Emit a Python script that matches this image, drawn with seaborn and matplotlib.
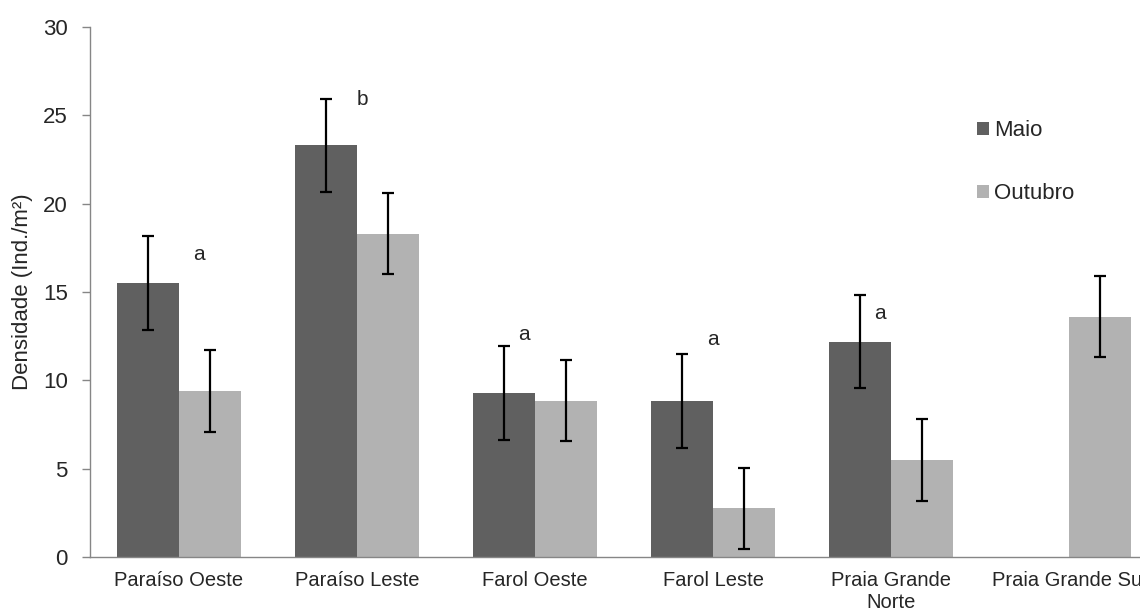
import pandas as pd
import seaborn as sns
import matplotlib.pyplot as plt
import numpy as np

# values
sites = ['Paraíso Oeste', 'Paraíso Leste', 'Farol Oeste', 'Farol Leste',
         'Praia Grande\nNorte', 'Praia Grande Sul']
maio = [15.5, 23.3, 9.3, 8.85, 12.2, 0.0]
maio_err = [2.65, 2.65, 2.65, 2.65, 2.65, np.nan]
outubro = [9.4, 18.3, 8.85, 2.75, 5.5, 13.6]
outubro_err = [2.3, 2.3, 2.3, 2.3, 2.3, 2.3]

letters = ['a', 'b', 'a', 'a', 'a']
letter_y = [17.1, 25.9, 12.6, 12.3, 13.8]
letter_dx = [0.11, 0.03, -0.06, 0.0, -0.06]


def main():
    sns.set_style('white')
    plt.rcParams['font.family'] = ['Liberation Sans', 'DejaVu Sans']

    df = pd.DataFrame({
        'Local': sites * 2,
        'Mês': ['Maio'] * len(sites) + ['Outubro'] * len(sites),
        'Densidade': maio + outubro,
    })

    fig = plt.figure(figsize=(11.4, 6.14), dpi=100)
    # the axes runs past the right edge, like the cropped original
    ax = fig.add_axes([0.0789, 0.0928, 0.937, 0.863])

    sns.barplot(data=df, x='Local', y='Densidade', hue='Mês',
                palette=['#606060', '#b2b2b2'], width=0.7, errorbar=None,
                linewidth=0, ax=ax)

    # error bars on the bar centres
    for cont, err in zip(ax.containers, [maio_err, outubro_err]):
        xs = [p.get_x() + p.get_width() / 2 for p in cont.patches]
        ys = [p.get_height() for p in cont.patches]
        ax.errorbar(xs, ys, yerr=err, fmt='none', ecolor='black',
                    elinewidth=1.6, capsize=4.5, capthick=1.6)

    for i, (t, y, dx) in enumerate(zip(letters, letter_y, letter_dx)):
        ax.text(i + dx, y, t, ha='center', va='center', fontsize=15)

    ax.set_xlim(-0.5, 5.5)
    ax.set_ylim(0, 30)
    ax.set_yticks(range(0, 31, 5))
    ax.set_xlabel('')
    ax.set_ylabel('Densidade (Ind./m²)', fontsize=16, labelpad=7)

    # category separators as tick marks
    ax.set_xticks(np.arange(-0.5, 5.6, 1), minor=True)
    ax.tick_params(axis='x', which='major', length=0, labelsize=14.5, pad=10)
    ax.tick_params(axis='x', which='minor', length=6, color='#868686', width=1)
    ax.tick_params(axis='y', length=6, color='#868686', width=1,
                   labelsize=16, left=True, pad=10)

    for s in ['top', 'right']:
        ax.spines[s].set_visible(False)
    for s in ['left', 'bottom']:
        ax.spines[s].set_color('#868686')
        ax.spines[s].set_linewidth(1)

    ax.legend(loc='center left', bbox_to_anchor=(0.8196, 0.745),
              frameon=False, borderpad=0, fontsize=16, handlelength=0.55,
              handleheight=0.55, handletextpad=0.25, labelspacing=1.9,
              title=None)

    plt.savefig('out.png', dpi=100)
    plt.close()


if __name__ == "__main__":
    main()
